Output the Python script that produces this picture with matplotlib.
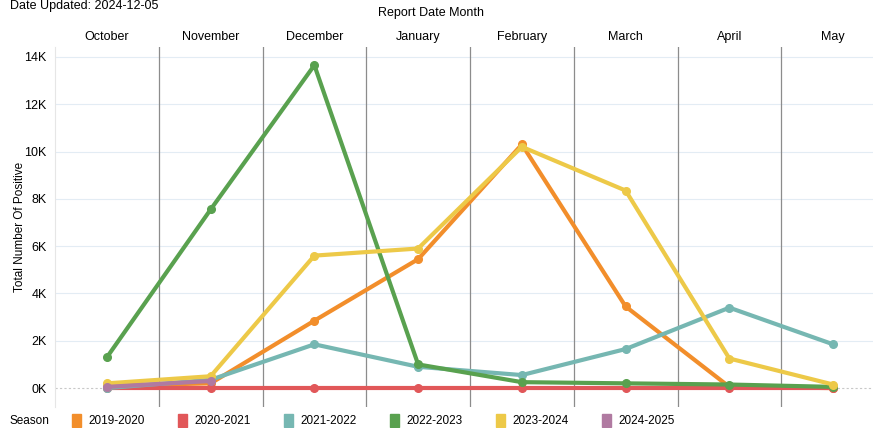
import matplotlib
matplotlib.use('Agg')
import matplotlib.pyplot as plt
from matplotlib.patches import Rectangle
import numpy as np

months = ['October', 'November', 'December', 'January', 'February', 'March', 'April', 'May']
seasons = ['2019-2020', '2020-2021', '2021-2022', '2022-2023', '2023-2024', '2024-2025']
colors = ['#F28E2B', '#E15759', '#76B7B2', '#59A14F', '#EDC948', '#B07AA1']

s2019_2020 = [100, 200, 2850, 5450, 10300, 3450, 50, 0]
s2020_2021 = [0, 0, 0, 0, 0, 0, 0, 0]
s2021_2022 = [0, 350, 1850, 900, 550, 1650, 3400, 1850]
s2022_2023 = [1300, 7550, 13650, 1000, 250, 200, 150, 50]
s2023_2024 = [200, 500, 5600, 5900, 10200, 8350, 1250, 150]
s2024_2025 = [50, 300]

series = [s2019_2020, s2020_2021, s2021_2022, s2022_2023, s2023_2024, s2024_2025]
draw_order = [1, 0, 2, 3, 4, 5]

plt.rcParams['font.family'] = ['Liberation Sans', 'DejaVu Sans']

W, H = 873, 428
fig = plt.figure(figsize=(W / 100, H / 100), dpi=100)
left, right, top, bottom = 55, 885, 47, 407
ax = fig.add_axes([left / W, 1 - bottom / H, (right - left) / W, (bottom - top) / H])

ax.set_xlim(-0.5, 7.5)
ax.set_ylim(-800, 14420)

yticks = np.arange(0, 14001, 2000)
for y in yticks[1:]:
    ax.axhline(y, color='#e3ecf4', lw=0.8, zorder=0)
ax.axhline(0, color='#c8c8c8', lw=0.8, ls=(0, (2, 2)), zorder=0)
for x in np.arange(0.5, 7.5, 1):
    ax.axvline(x, color='#8c8c8c', lw=0.9, zorder=1)

for i in draw_order:
    vals = series[i]
    ax.plot(np.arange(len(vals)), vals, color=colors[i], lw=3.0, marker='o',
            markersize=5.5, solid_capstyle='round', zorder=3 + i)

ax.set_yticks(yticks)
ax.set_yticklabels(['{}K'.format(int(y / 1000)) for y in yticks], fontsize=9)
ax.set_xticks([])
ax.tick_params(axis='y', length=0, pad=6)
for side in ['top', 'right', 'bottom']:
    ax.spines[side].set_visible(False)
ax.spines['left'].set_color('#e6e6e6')
ax.set_ylabel('Total Number Of Positive', fontsize=8.5)
ax.yaxis.set_label_coords(-(55 - 26) / (right - left), 0.5)

for i, m in enumerate(months):
    ax.text(i, 14420 + 420, m, ha='center', va='center', fontsize=9, clip_on=False)

fig.text(431 / W, 1 - 13 / H, 'Report Date Month', ha='center', va='center', fontsize=9)
fig.text(10 / W, 1 - 6 / H, 'Date Updated: 2024-12-05', ha='left', va='center', fontsize=9)

# legend along the bottom
ly = 1 - 421 / H
fig.text(10 / W, ly, 'Season', ha='left', va='center', fontsize=8.5)
legend_x = [72, 178, 284, 390, 496, 602]
for i, s in enumerate(seasons):
    x0 = legend_x[i]
    fig.patches.append(Rectangle((x0 / W, ly - 6 / H), 9 / W, 13 / H,
                                 transform=fig.transFigure, color=colors[i]))
    fig.text((x0 + 16) / W, ly, s, ha='left', va='center', fontsize=8.5)

fig.savefig('out.png', dpi=100)
